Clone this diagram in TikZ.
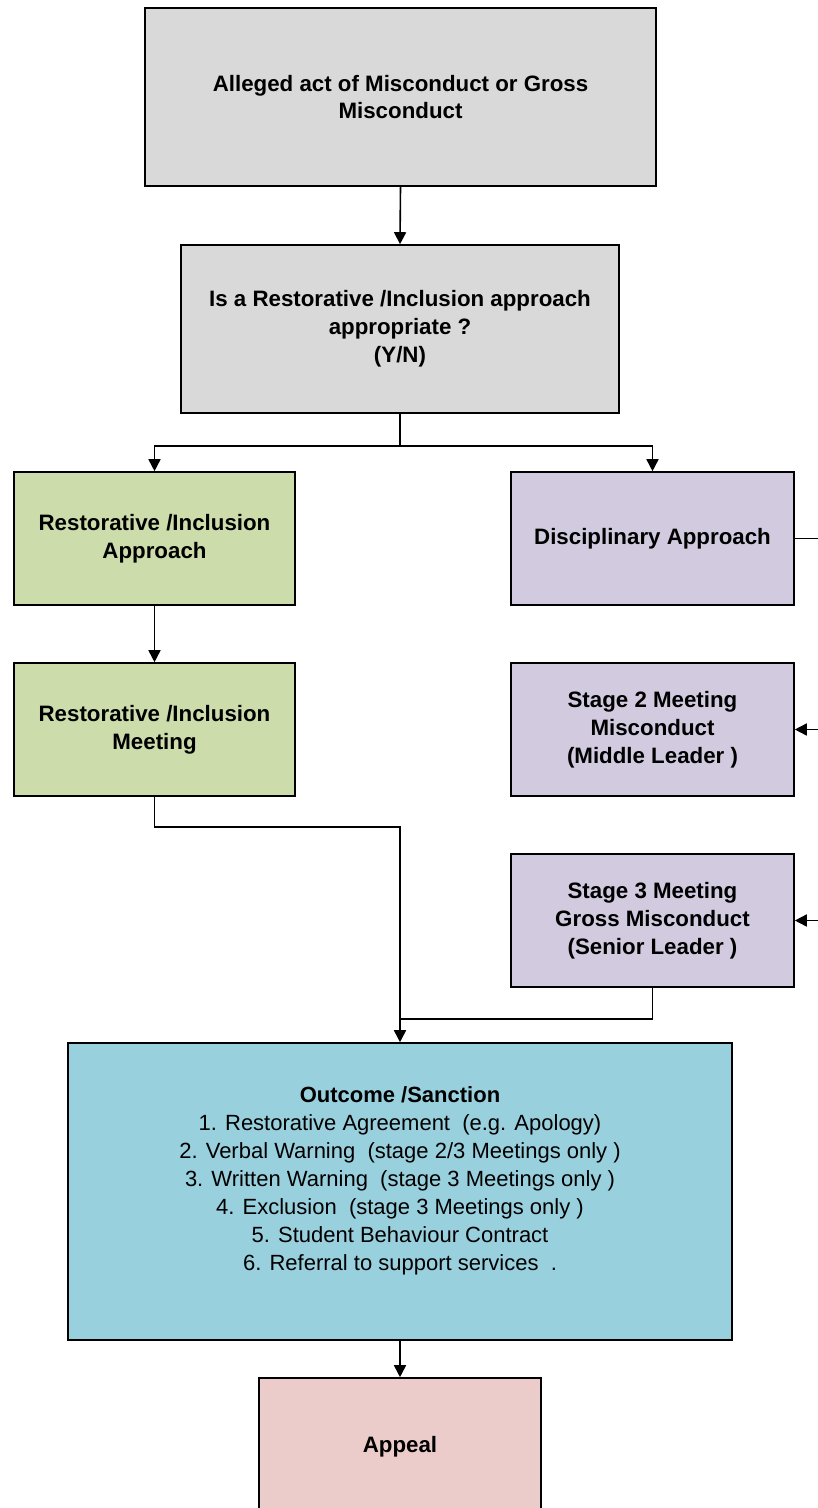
\documentclass[tikz,border=0pt]{standalone}
\usepackage{fontspec}
\setmainfont{Liberation Sans}
\usetikzlibrary{arrows.meta}
\definecolor{boxgray}{HTML}{D9D9D9}
\definecolor{boxgreen}{HTML}{CCDCAA}
\definecolor{boxpurple}{HTML}{D2CADF}
\definecolor{boxblue}{HTML}{99D0DE}
\definecolor{boxpink}{HTML}{ECCCCB}
\tikzset{
  box/.style={draw=black, line width=1.6pt, rectangle, inner sep=0pt, align=center,
    font=\fontsize{22.3}{27.8}\selectfont\bfseries},
  conn/.style={draw=black, line width=1.6pt},
  arr/.style={conn, -{Triangle[length=12pt,width=12pt]}},
}
\begin{document}
\begin{tikzpicture}[x=1pt,y=1pt]
\useasboundingbox (0,0) rectangle (818,-1508);
\node[box, fill=boxgray, minimum width=511pt, minimum height=178pt] (a) at (400.5,-97)
  {Alleged act of Misconduct or Gross\\Misconduct};
\node[box, fill=boxgray, minimum width=438pt, minimum height=168pt] (b) at (400,-329)
  {Is a Restorative /Inclusion approach\\appropriate ?\\(Y/N)};
\node[box, fill=boxgreen, minimum width=281pt, minimum height=133pt] (c) at (154.5,-538.5)
  {Restorative /Inclusion\\Approach};
\node[box, fill=boxpurple, minimum width=283pt, minimum height=133pt] (d) at (652.5,-538.5)
  {Disciplinary Approach};
\node[box, fill=boxgreen, minimum width=281pt, minimum height=133pt] (e) at (154.5,-729.5)
  {Restorative /Inclusion\\Meeting};
\node[box, fill=boxpurple, minimum width=283pt, minimum height=133pt] (f) at (652.5,-729.5)
  {Stage 2 Meeting\\Misconduct\\(Middle Leader )};
\node[box, fill=boxpurple, minimum width=283pt, minimum height=133pt] (g) at (652.5,-920.5)
  {Stage 3 Meeting\\Gross Misconduct\\(Senior Leader )};
\node[box, fill=boxblue, minimum width=664pt, minimum height=297pt] (h) at (400,-1191.5) {};
\node[align=center, inner sep=0pt, font=\fontsize{22}{28}\selectfont] (ht) at (400,-1181)
  {\textbf{Outcome /Sanction}\\
   1. Restorative Agreement \ (e.g. Apology)\\
   2. Verbal Warning \ (stage 2/3 Meetings only )\\
   3. Written Warning \ (stage 3 Meetings only )\\
   4. Exclusion \ (stage 3 Meetings only )\\
   5. Student Behaviour Contract\\
   6. Referral to support services \ .};
\node[box, fill=boxpink, minimum width=282pt, minimum height=138pt] (i) at (400,-1447)
  {Appeal};
\coordinate (dr) at (822,-538.5);
\coordinate (fr) at (822,-729.5);
\coordinate (gr) at (822,-920.5);
\coordinate (j) at (400,-1019);
\draw[arr] (a.south) -- (b.north);
\draw[arr] (b.south) -- ++(0,-32) -| (c.north);
\draw[arr] (b.south) -- ++(0,-32) -| (d.north);
\draw[conn] (d.east) -- (dr);
\draw[arr] (fr) -- (f.east);
\draw[arr] (gr) -- (g.east);
\draw[arr] (c.south) -- (e.north);
\draw[arr] (e.south) -- ++(0,-30) -| (h.north);
\draw[conn] (g.south) |- (j);
\draw[arr] (h.south) -- (i.north);
\end{tikzpicture}
\end{document}
